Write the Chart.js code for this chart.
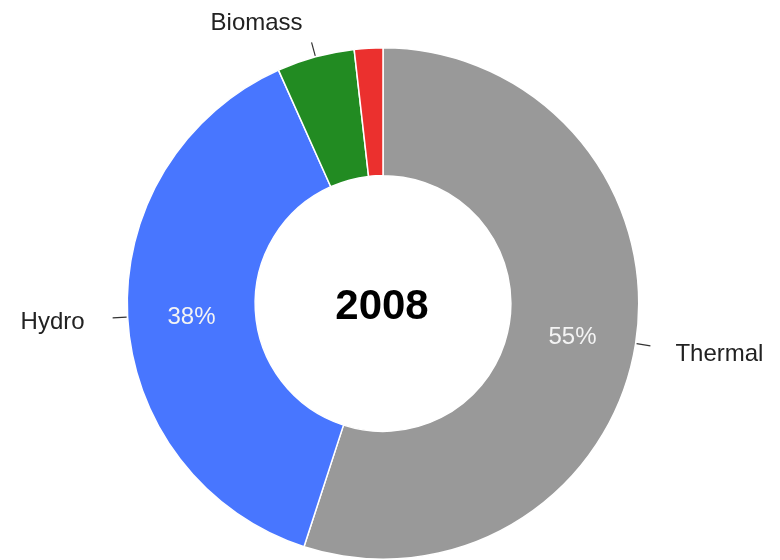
<!DOCTYPE html>
<html>
<head>
<meta charset="utf-8">
<script src="https://cdn.jsdelivr.net/npm/chart.js@4/dist/chart.umd.min.js"></script>
<style>
  html, body { margin: 0; padding: 0; background: #ffffff; }
  #wrap { width: 780px; height: 560px; }
</style>
</head>
<body>
<div id="wrap"><canvas id="c" width="780" height="560"></canvas></div>
<script>
const categories = ['Thermal', 'Hydro', 'Biomass', 'Other'];
const shares = [55.0, 38.3, 4.9, 1.8];
const sliceColors = ['#999999', '#4876FF', '#228B22', '#EB302E'];
const centerTitle = '2008';

const labelFont = '24px "Liberation Sans", Arial, sans-serif';

const labelsPlugin = {
  id: 'gLabels',
  afterDatasetsDraw(chart) {
    const ctx = chart.ctx;
    const meta = chart.getDatasetMeta(0);
    const total = shares.reduce((a, b) => a + b, 0);
    ctx.save();
    meta.data.forEach((arc, i) => {
      const p = arc.getProps(['x', 'y', 'startAngle', 'endAngle', 'innerRadius', 'outerRadius'], true);
      const mid = (p.startAngle + p.endAngle) / 2;
      const cos = Math.cos(mid), sin = Math.sin(mid);
      const pct = shares[i] / total * 100;
      // inner percentage text
      if (pct > 10) {
        const r = (p.innerRadius + p.outerRadius) / 2;
        ctx.fillStyle = '#f4f4f4';
        ctx.font = labelFont;
        ctx.textAlign = 'center';
        ctx.textBaseline = 'middle';
        ctx.fillText(Math.round(pct) + '%', p.x + cos * r, p.y + sin * r + 4);
      }
      // outside labels with leader line
      if (pct > 3) {
        const r1 = p.outerRadius + 1, r2 = p.outerRadius + 15;
        const x1 = p.x + cos * r1, y1 = p.y + sin * r1;
        const x2 = p.x + cos * r2, y2 = p.y + sin * r2;
        ctx.strokeStyle = '#333333';
        ctx.lineWidth = 1.2;
        ctx.beginPath();
        ctx.moveTo(x1, y1);
        ctx.lineTo(x2, y2);
        ctx.stroke();
        ctx.fillStyle = '#222222';
        ctx.font = labelFont;
        ctx.textBaseline = 'middle';
        let tx, ty;
        if (sin < -0.9) {
          ctx.textAlign = 'center';
          tx = x2 - 55; ty = y2 - 19;
        } else if (cos >= 0) {
          ctx.textAlign = 'left';
          tx = x2 + 25; ty = y2 + 9;
        } else {
          ctx.textAlign = 'right';
          tx = x2 - 28; ty = y2 + 4;
        }
        ctx.fillText(categories[i], tx, ty);
      }
    });
    // center title
    const a0 = meta.data[0];
    ctx.fillStyle = '#000000';
    ctx.font = 'bold 42px "Liberation Sans", Arial, sans-serif';
    ctx.textAlign = 'center';
    ctx.textBaseline = 'middle';
    ctx.fillText(centerTitle, a0.x - 1, a0.y + 4);
    ctx.restore();
  }
};

new Chart(document.getElementById('c'), {
  type: 'doughnut',
  data: {
    labels: categories,
    datasets: [{
      data: shares,
      backgroundColor: sliceColors,
      borderColor: '#ffffff',
      borderWidth: 1.5,
      hoverOffset: 0
    }]
  },
  options: {
    responsive: false,
    animation: false,
    cutout: '50%',
    layout: { padding: { left: 126, right: 140, top: 47, bottom: 0 } },
    plugins: {
      legend: { display: false },
      tooltip: { enabled: false },
      title: { display: false }
    }
  },
  plugins: [labelsPlugin]
});
</script>
</body>
</html>
